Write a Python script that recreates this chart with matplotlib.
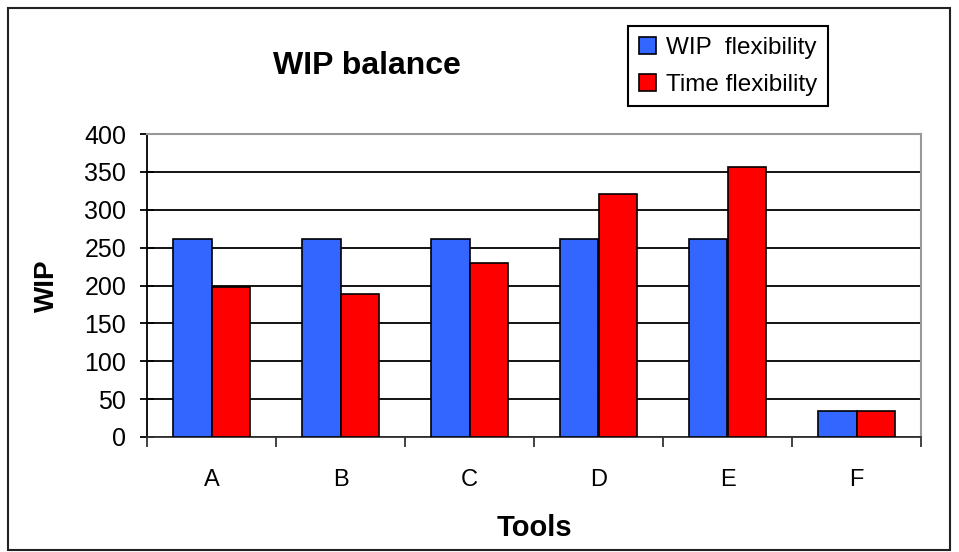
import numpy as np
import matplotlib.pyplot as plt
from matplotlib.patches import Rectangle

plt.rcParams['font.family'] = ['Liberation Sans', 'DejaVu Sans']

tools = ['A', 'B', 'C', 'D', 'E', 'F']
wip_flex = [262, 262, 262, 262, 262, 34]
time_flex = [198, 189, 230, 321, 356, 34]
y_ticks = [0, 50, 100, 150, 200, 250, 300, 350, 400]

fig = plt.figure(figsize=(9.59, 5.52), dpi=100)
ax = fig.add_axes([147 / 959, 1 - 437 / 552, (921 - 147) / 959, (437 - 134) / 552])

# outer chart border
fig.patches.append(Rectangle((8 / 959, 2 / 552), 942 / 959, 542 / 552, transform=fig.transFigure,
                             fill=False, edgecolor='#222222', linewidth=1.5))

x = np.arange(len(tools))
w = 0.295
ax.bar(x - w / 2, wip_flex, w, color='#3366FF', edgecolor='black', linewidth=1.2,
       label='WIP  flexibility', zorder=3)
ax.bar(x + w / 2, time_flex, w, color='#FF0000', edgecolor='black', linewidth=1.2,
       label='Time flexibility', zorder=3)

ax.set_xlim(-0.5, 5.5)
ax.set_ylim(0, 400)
ax.set_yticks(y_ticks)
ax.grid(axis='y', color='black', linewidth=1.3, zorder=0)

# category boundary ticks (major) and labels at centers (minor)
ax.set_xticks(np.arange(-0.5, 6, 1.0))
ax.set_xticklabels([])
ax.set_xticks(x, minor=True)
ax.set_xticklabels(tools, minor=True, fontsize=17)
ax.tick_params(axis='x', which='major', direction='out', length=7, width=1.3, color='#333333')
ax.tick_params(axis='x', which='minor', length=0, pad=23)
ax.tick_params(axis='y', direction='inout', length=10, width=1.3, labelsize=18, pad=10)

for s in ['top', 'right']:
    ax.spines[s].set_color('#999999')
    ax.spines[s].set_linewidth(1.5)
ax.spines['left'].set_color('black')
ax.spines['left'].set_linewidth(1.3)
ax.spines['bottom'].set_color('#333333')
ax.spines['bottom'].set_linewidth(1.3)

ax.set_xlabel('Tools', fontsize=21, fontweight='bold')
ax.xaxis.set_label_coords(0.5, -0.255)
ax.set_ylabel('WIP', fontsize=20, fontweight='bold')
ax.yaxis.set_label_coords(-0.113, 0.5)

fig.text(367 / 959, 1 - 66 / 552, 'WIP balance', fontsize=23, fontweight='bold',
         ha='center', va='center')

leg = fig.legend(loc='upper left', bbox_to_anchor=(628 / 959, 1 - 26 / 552), fontsize=17.5,
                 frameon=True, fancybox=False, edgecolor='black', framealpha=1,
                 handlelength=0.7, handleheight=0.7, handletextpad=0.4,
                 borderpad=0.45, labelspacing=0.6, borderaxespad=0)
leg.get_frame().set_linewidth(1.5)

fig.savefig('out.png', dpi=100)
